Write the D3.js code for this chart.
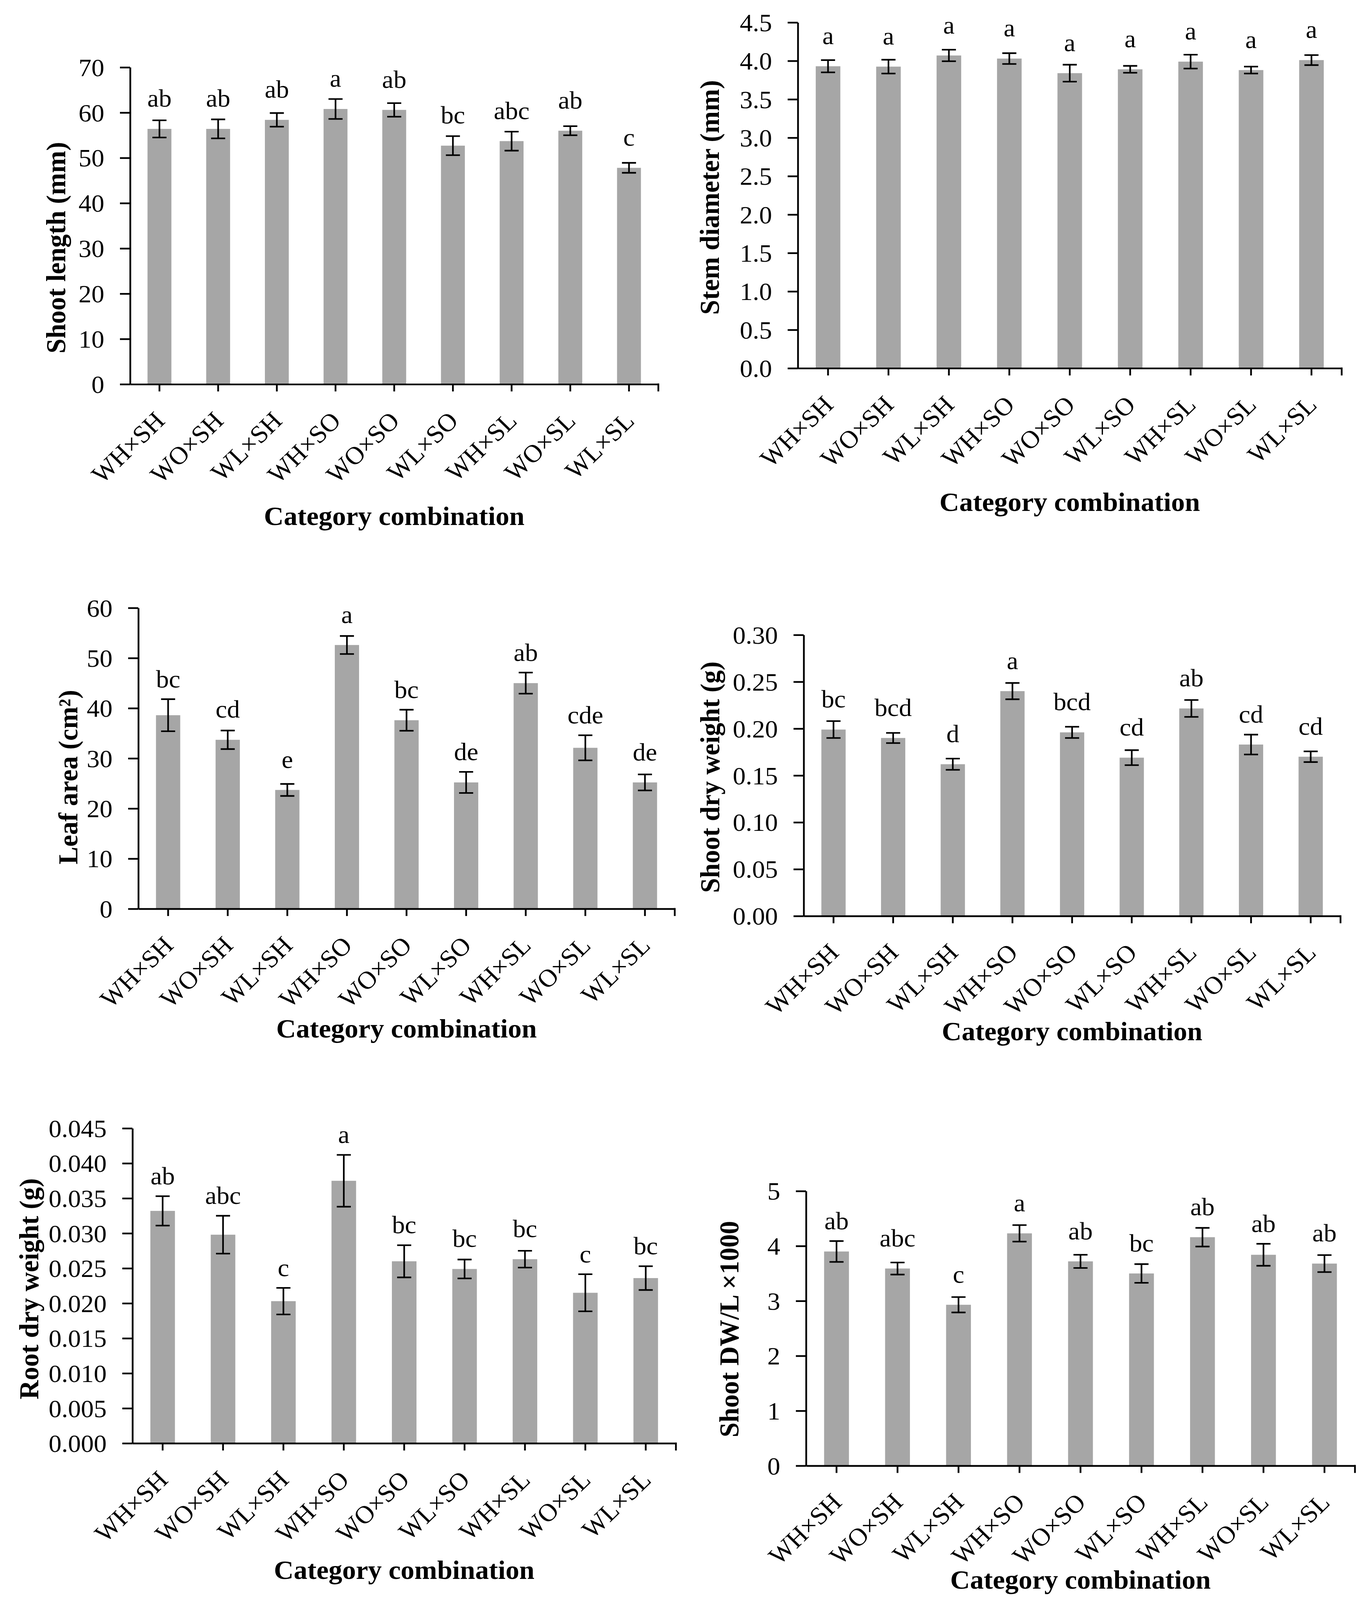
<!DOCTYPE html>
<html><head><meta charset="utf-8">
<script src="https://cdn.jsdelivr.net/npm/d3@7/dist/d3.min.js"></script>
<style>html,body{margin:0;padding:0;background:#fff;overflow:hidden}#chart{display:block;width:100vw;height:100vh}</style>
</head><body>
<svg id="chart" viewBox="0 0 3486 4206" preserveAspectRatio="none"></svg>
<script>
// ---------- DATA ----------
const categories = ["WH×SH","WO×SH","WL×SH","WH×SO","WO×SO","WL×SO","WH×SL","WO×SL","WL×SL"];
const xTitle = "Category combination";

const shootLengthMeans   = [56.4, 56.4, 58.4, 60.8, 60.6, 52.7, 53.7, 56.0, 47.8];
const shootLengthErrors  = [1.9, 2.1, 1.5, 2.2, 1.5, 2.1, 2.1, 1.0, 1.1];
const shootLengthLetters = ["ab","ab","ab","a","ab","bc","abc","ab","c"];
const shootLengthTicks   = [0, 10, 20, 30, 40, 50, 60, 70];

const stemDiameterMeans   = [3.93, 3.925, 4.07, 4.03, 3.84, 3.89, 3.99, 3.88, 4.01];
const stemDiameterErrors  = [0.08, 0.09, 0.075, 0.07, 0.11, 0.045, 0.09, 0.045, 0.065];
const stemDiameterLetters = ["a","a","a","a","a","a","a","a","a"];
const stemDiameterTicks   = [0.0, 0.5, 1.0, 1.5, 2.0, 2.5, 3.0, 3.5, 4.0, 4.5];

const leafAreaMeans   = [38.6, 33.7, 23.7, 52.6, 37.6, 25.2, 45.0, 32.1, 25.2];
const leafAreaErrors  = [3.2, 1.85, 1.2, 1.8, 2.1, 2.1, 2.1, 2.5, 1.6];
const leafAreaLetters = ["bc","cd","e","a","bc","de","ab","cde","de"];
const leafAreaTicks   = [0, 10, 20, 30, 40, 50, 60];

const shootDWMeans   = [0.199, 0.190, 0.162, 0.240, 0.196, 0.169, 0.2215, 0.183, 0.170];
const shootDWErrors  = [0.009, 0.0054, 0.006, 0.0087, 0.006, 0.008, 0.009, 0.0106, 0.0057];
const shootDWLetters = ["bc","bcd","d","a","bcd","cd","ab","cd","cd"];
const shootDWTicks   = [0.00, 0.05, 0.10, 0.15, 0.20, 0.25, 0.30];

const rootDWMeans   = [0.0332, 0.0298, 0.0203, 0.0375, 0.0260, 0.0249, 0.0263, 0.0215, 0.0236];
const rootDWErrors  = [0.0021, 0.0027, 0.0019, 0.0037, 0.0023, 0.00135, 0.0012, 0.00265, 0.0017];
const rootDWLetters = ["ab","abc","c","a","bc","bc","bc","c","bc"];
const rootDWTicks   = [0.000, 0.005, 0.010, 0.015, 0.020, 0.025, 0.030, 0.035, 0.040, 0.045];

const dwlMeans   = [3.90, 3.59, 2.93, 4.23, 3.72, 3.50, 4.16, 3.84, 3.68];
const dwlErrors  = [0.19, 0.11, 0.14, 0.15, 0.12, 0.17, 0.17, 0.20, 0.155];
const dwlLetters = ["ab","abc","c","a","ab","bc","ab","ab","ab"];
const dwlTicks   = [0, 1, 2, 3, 4, 5];

// ---------- LAYOUT ----------
const FONT = "'Liberation Serif','Times New Roman',serif";
const panels = [
  {title:"Shoot length (mm)", means:shootLengthMeans, errs:shootLengthErrors, letters:shootLengthLetters, ticks:shootLengthTicks, fmt:d3.format("d"),
   L:{ax:333, end:1685, y0:1010, yTop:177, tx:167, ty:651, xty:1380}},
  {title:"Stem diameter (mm)", means:stemDiameterMeans, errs:stemDiameterErrors, letters:stemDiameterLetters, ticks:stemDiameterTicks, fmt:d3.format(".1f"),
   L:{ax:2042, end:3434, y0:968, yTop:59, tx:1840, ty:519, xty:1343}},
  {title:"Leaf area (cm²)", means:leafAreaMeans, errs:leafAreaErrors, letters:leafAreaLetters, ticks:leafAreaTicks, fmt:d3.format("d"),
   L:{ax:354, end:1727, y0:2389, yTop:1598, tx:198, ty:2043, xty:2727}},
  {title:"Shoot dry weight (g)", means:shootDWMeans, errs:shootDWErrors, letters:shootDWLetters, ticks:shootDWTicks, fmt:d3.format(".2f"),
   L:{ax:2057, end:3431, y0:2408, yTop:1669, tx:1841, ty:2043, xty:2735}},
  {title:"Root dry weight (g)", means:rootDWMeans, errs:rootDWErrors, letters:rootDWLetters, ticks:rootDWTicks, fmt:d3.format(".3f"),
   L:{ax:339, end:1730, y0:3794, yTop:2966, tx:98, ty:3388, xty:4151}},
  {title:"Shoot DW/L ×1000", means:dwlMeans, errs:dwlErrors, letters:dwlLetters, ticks:dwlTicks, fmt:d3.format("d"),
   L:{ax:2063, end:3468, y0:3853, yTop:3131, tx:1890, ty:3494, xty:4176}}
];

const svg = d3.select("#chart");
svg.append("rect").attr("width",3486).attr("height",4206).attr("fill","#fff");

const AXW = 4.5, TICKFS = 66, TITLEFS = 70;

panels.forEach(p => {
  const L = p.L;
  const g = svg.append("g");
  const x = d3.scaleBand().domain(categories).range([L.ax, L.end]).padding(0);
  const y = d3.scaleLinear().domain([p.ticks[0], p.ticks[p.ticks.length-1]]).range([L.y0, L.yTop]);
  const bw = x.bandwidth() * 0.407;
  const cx = i => x(categories[i]) + x.bandwidth()/2;

  // bars
  g.selectAll("rect.bar").data(p.means).join("rect").attr("class","bar")
    .attr("x",(d,i)=>cx(i)-bw/2).attr("y",d=>y(d))
    .attr("width",bw).attr("height",d=>L.y0-y(d)).attr("fill","#a6a6a6");

  // error bars
  const eb = g.selectAll("g.err").data(p.means).join("g").attr("class","err")
    .attr("stroke","#000").attr("stroke-width",4.2);
  const cap = 18;
  eb.append("line").attr("x1",(d,i)=>cx(i)).attr("x2",(d,i)=>cx(i))
    .attr("y1",(d,i)=>y(d-p.errs[i])).attr("y2",(d,i)=>y(d+p.errs[i]));
  eb.append("line").attr("x1",(d,i)=>cx(i)-cap).attr("x2",(d,i)=>cx(i)+cap)
    .attr("y1",(d,i)=>y(d+p.errs[i])).attr("y2",(d,i)=>y(d+p.errs[i]));
  eb.append("line").attr("x1",(d,i)=>cx(i)-cap).attr("x2",(d,i)=>cx(i)+cap)
    .attr("y1",(d,i)=>y(d-p.errs[i])).attr("y2",(d,i)=>y(d-p.errs[i]));

  // letters
  g.selectAll("text.letter").data(p.means).join("text").attr("class","letter")
    .attr("x",(d,i)=>cx(i))
    .attr("y",(d,i)=>Math.min(y(d)-58, y(d+p.errs[i])-31))
    .attr("text-anchor","middle").attr("font-family",FONT).attr("font-size",TICKFS)
    .text((d,i)=>p.letters[i]);

  // y axis
  const ya = g.append("g").attr("transform",`translate(${L.ax},0)`)
    .call(d3.axisLeft(y).tickValues(p.ticks).tickFormat(p.fmt).tickSize(26).tickSizeOuter(0).tickPadding(40));
  ya.select(".domain").attr("stroke","#000").attr("stroke-width",AXW);
  ya.selectAll(".tick line").attr("stroke","#000").attr("stroke-width",AXW);
  ya.selectAll(".tick text").attr("font-family",FONT).attr("font-size",TICKFS).attr("fill","#000").attr("dy","0.34em");

  // x axis
  const xa = g.append("g").attr("transform",`translate(0,${L.y0})`)
    .call(d3.axisBottom(x).tickSize(19).tickSizeOuter(0));
  xa.select(".domain").attr("stroke","#000").attr("stroke-width",AXW);
  xa.selectAll(".tick line").attr("stroke","#000").attr("stroke-width",AXW);
  xa.selectAll(".tick text").attr("font-family",FONT).attr("font-size",TICKFS).attr("fill","#000")
    .attr("y",null).attr("dy",null).attr("text-anchor","end")
    .attr("transform","translate(17,100) rotate(-45)");
  xa.append("line").attr("x1",L.end).attr("x2",L.end).attr("y1",-2).attr("y2",19)
    .attr("stroke","#000").attr("stroke-width",AXW);

  // titles
  g.append("text").attr("transform",`translate(${L.tx},${L.ty}) rotate(-90)`)
    .attr("text-anchor","middle").attr("font-family",FONT).attr("font-weight","bold")
    .attr("font-size",TITLEFS).text(p.title);
  g.append("text").attr("x",(L.ax+L.end)/2).attr("y",L.xty)
    .attr("text-anchor","middle").attr("font-family",FONT).attr("font-weight","bold")
    .attr("font-size",TITLEFS).text(xTitle);
});
</script>
</body></html>
